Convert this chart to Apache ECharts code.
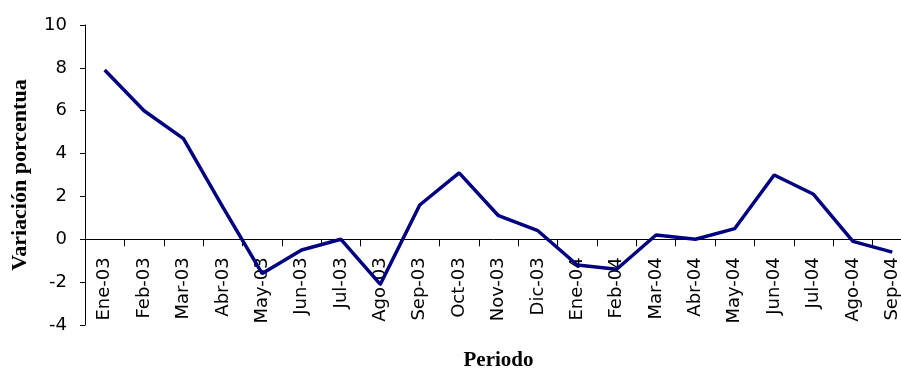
<!DOCTYPE html>
<html>
<head>
<meta charset="utf-8">
<script src="https://cdn.jsdelivr.net/npm/echarts@6/dist/echarts.min.js"></script>
<style>
  html, body { margin: 0; padding: 0; background: #ffffff; }
  #chart { width: 901px; height: 370px; }
</style>
</head>
<body>
<div id="chart"></div>
<script>
// Monthly periods, Jan 2003 to Sep 2004
const periods = [
  'Ene-03', 'Feb-03', 'Mar-03', 'Abr-03', 'May-03', 'Jun-03', 'Jul-03',
  'Ago-03', 'Sep-03', 'Oct-03', 'Nov-03', 'Dic-03', 'Ene-04', 'Feb-04',
  'Mar-04', 'Abr-04', 'May-04', 'Jun-04', 'Jul-04', 'Ago-04', 'Sep-04'
];

// Percentage change per period
const variacion = [
  7.9, 6.0, 4.7, 1.5, -1.6, -0.5, 0.0,
  -2.1, 1.6, 3.1, 1.1, 0.4, -1.2, -1.4,
  0.2, 0.0, 0.5, 3.0, 2.1, -0.1, -0.6
];

// Value axis range
const yMin = -4;
const yMax = 10;
const yStep = 2;

const yTitle = 'Variación porcentua';
const xTitle = 'Periodo';

const chartWidth = 901;
const chartHeight = 370;
const gridBox = { left: 85, right: -11, top: 25, bottom: 45 };
const plotHeight = chartHeight - gridBox.top - gridBox.bottom;

// The category axis sits on the zero line; shift it up from the grid bottom
// by the distance from yMin to 0 on the value scale.
const zeroShift = plotHeight * (0 - yMin) / (yMax - yMin);

const chart = echarts.init(document.getElementById('chart'), null, { renderer: 'canvas' });

const sansFont = '"DejaVu Sans", sans-serif';
const serifFont = '"Liberation Serif", "DejaVu Serif", serif';

chart.setOption({
  animation: false,
  backgroundColor: '#ffffff',
  grid: {
    left: gridBox.left,
    right: gridBox.right,
    top: gridBox.top,
    bottom: gridBox.bottom,
    containLabel: false,
    outerBoundsMode: 'none'
  },
  xAxis: {
    type: 'category',
    data: periods,
    boundaryGap: true,
    position: 'bottom',
    offset: -zeroShift,
    name: xTitle,
    nameLocation: 'middle',
    nameGap: 111,
    nameTextStyle: {
      fontFamily: serifFont,
      fontWeight: 'bold',
      fontSize: 21,
      color: '#000000'
    },
    axisLine: { onZero: false, lineStyle: { color: '#000000', width: 1 } },
    axisTick: { show: true, length: 7, inside: false, lineStyle: { color: '#000000' } },
    axisLabel: {
      rotate: 90,
      interval: 0,
      margin: 18,
      fontFamily: sansFont,
      fontSize: 18,
      color: '#000000'
    },
    splitLine: { show: false }
  },
  yAxis: {
    type: 'value',
    min: yMin,
    max: yMax,
    interval: yStep,
    name: yTitle,
    nameLocation: 'middle',
    nameGap: 54,
    nameRotate: 90,
    nameTextStyle: {
      fontFamily: serifFont,
      fontWeight: 'bold',
      fontSize: 22,
      color: '#000000'
    },
    axisLine: { show: true, lineStyle: { color: '#000000', width: 1 } },
    axisTick: { show: true, length: 5, lineStyle: { color: '#000000' } },
    axisLabel: {
      margin: 18,
      fontFamily: sansFont,
      fontSize: 18,
      color: '#000000'
    },
    splitLine: { show: false }
  },
  series: [{
    type: 'line',
    data: variacion,
    showSymbol: false,
    symbol: 'none',
    z: 3,
    lineStyle: { color: '#000080', width: 3.5 },
    itemStyle: { color: '#000080' }
  }]
});
</script>
</body>
</html>
